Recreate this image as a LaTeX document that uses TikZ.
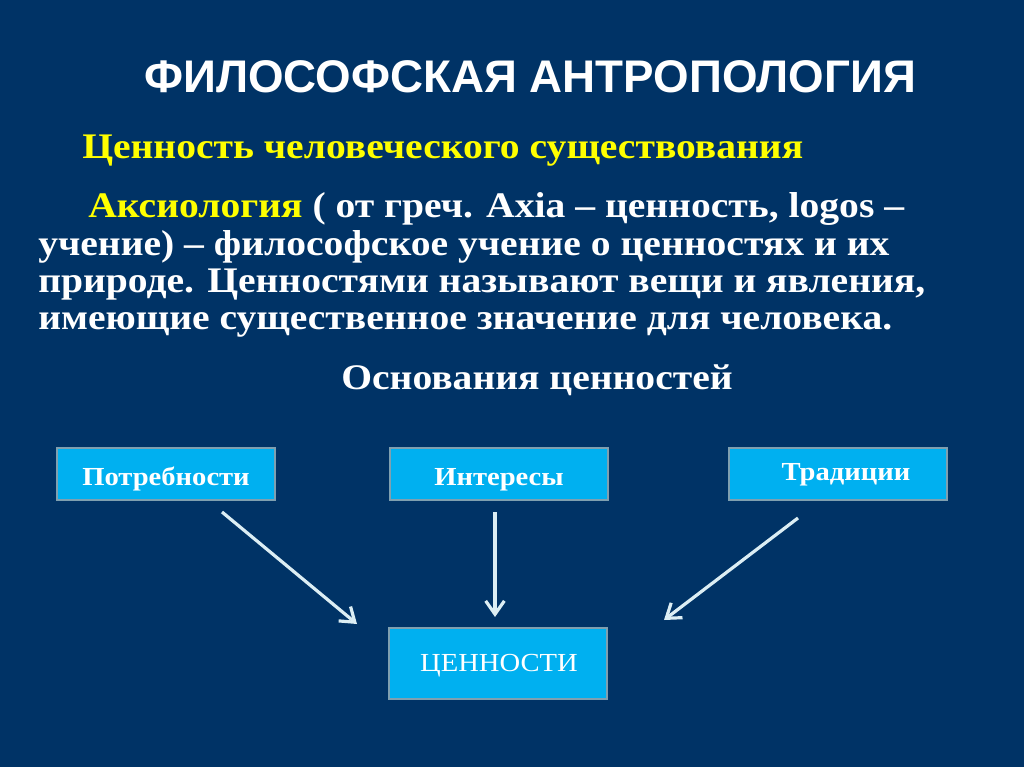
\documentclass[tikz,border=0pt]{standalone}
\usepackage{fontspec}
\setmainfont{Liberation Serif}
\newfontfamily\titlefont{Liberation Sans}
\newfontfamily\bodyfont[FakeStretch=1.1]{Liberation Serif}
\usetikzlibrary{arrows.meta}
\definecolor{bg}{RGB}{0,51,102}
\definecolor{boxfill}{RGB}{0,176,240}
\definecolor{boxline}{RGB}{127,160,176}
\definecolor{arrowc}{RGB}{220,238,244}
\definecolor{yel}{RGB}{255,255,0}
\tikzset{
  valbox/.style={draw=boxline, line width=1.5pt, fill=boxfill, minimum width=218*0.75pt, minimum height=52*0.75pt, inner sep=0pt, text=white},
  boxtext/.style={font=\bodyfont\bfseries\fontsize{19.5}{22}\selectfont},
  conn/.style={draw=arrowc, line width=2.4pt, -{Straight Barb[length=10pt,width=14pt,line width=2.4pt]}},
  line/.style={anchor=base west, inner sep=0pt, text=white, font=\bodyfont\bfseries\fontsize{27}{30}\selectfont}
}
\begin{document}
\begin{tikzpicture}[x=0.75pt,y=-0.75pt]
\fill[bg] (0,0) rectangle (1024,767);
\useasboundingbox (0,0) rectangle (1024,767);
\node[text=white, font=\titlefont\bfseries\fontsize{34.3}{40}\selectfont, inner sep=0pt, anchor=base] (title) at (530,93) {ФИЛОСОФСКАЯ АНТРОПОЛОГИЯ};
\node[line, text=yel] (sub) at (82,158) {Ценность человеческого существования};
\node[line] (l1) at (88,217) {\textcolor{yel}{Аксиология} ( от греч. Axia – ценность, logos –};
\node[line] (l2) at (38,255) {учение) – философское учение о ценностях и их};
\node[line] (l3) at (38,292) {природе. Ценностями называют вещи и явления,};
\node[line] (l4) at (38,329) {имеющие существенное значение для человека.};
\node[line, anchor=base] (osn) at (537,389) {Основания ценностей};
\node[valbox] (potr) at (166,474) {};
\node[valbox] (inter) at (499,474) {};
\node[valbox] (trad) at (838,474) {};
\node[valbox, minimum height=71*0.75pt] (cenn) at (498,663) {};
\node[boxtext, text=white, anchor=base, inner sep=0pt] (potrt) at (166,485) {Потребности};
\node[boxtext, text=white, anchor=base, inner sep=0pt] (intert) at (499,485) {Интересы};
\node[boxtext, text=white, anchor=base, inner sep=0pt] (tradt) at (846,480) {Традиции};
\node[text=white, anchor=base, inner sep=0pt, font=\bodyfont\fontsize{19.5}{22}\selectfont] (cennt) at (499,671) {ЦЕННОСТИ};
\coordinate (a1s) at (222,512); \coordinate (a1e) at (357,624);
\coordinate (a2s) at (495,512); \coordinate (a2e) at (495,617);
\coordinate (a3s) at (798,518); \coordinate (a3e) at (664,620);
\draw[conn] (a1s) -- (a1e);
\draw[conn] (a2s) -- (a2e);
\draw[conn] (a3s) -- (a3e);
\end{tikzpicture}
\end{document}
